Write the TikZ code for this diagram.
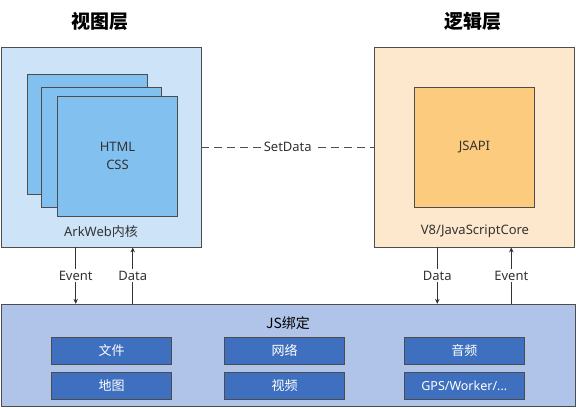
\documentclass[tikz,border=0pt]{standalone}
\usepackage{fontspec}
\setmainfont{Noto Sans}
\newfontfamily\cjk{Noto Sans CJK SC}
\usetikzlibrary{arrows.meta}

\definecolor{viewfill}{HTML}{CDE3F7}
\definecolor{pagefill}{HTML}{82C0F0}
\definecolor{logicfill}{HTML}{FDE8CD}
\definecolor{apifill}{HTML}{FCCB7E}
\definecolor{bindfill}{HTML}{B0C3E9}
\definecolor{modfill}{HTML}{3F70BF}
\definecolor{edge}{HTML}{4D4D4D}

\tikzset{
    layer/.style={draw=edge,line width=0.8pt,minimum width=200pt,minimum height=200pt,inner sep=0pt},
    page/.style={draw=edge,line width=0.8pt,fill=pagefill,minimum width=120pt,minimum height=120pt,inner sep=0pt},
    module/.style={draw=black!70,line width=0.8pt,fill=modfill,text=white,minimum width=120pt,minimum height=27pt,inner sep=0pt,font=\cjk\fontsize{13}{15}\selectfont},
    txt/.style={font=\fontsize{13}{16}\selectfont,text=black!80},
    title/.style={font=\cjk\bfseries\fontsize{19}{22}\selectfont},
    arr/.style={draw=black!80,line width=0.7pt,-{Stealth[length=5pt,width=4.5pt]}},
    lbl/.style={txt,fill=white,inner sep=1.5pt}
}

\begin{document}
\begin{tikzpicture}[x=1pt,y=-1pt]
    \useasboundingbox (0,0) rectangle (576,409);

    % view layer
    \node[title] (viewtitle) at (100,21) {视图层};
    \node[layer,fill=viewfill] (view) at (101,147) {};
    \node[page] (page3) at (87.5,134) {};
    \node[page] (page2) at (101.5,147.5) {};
    \node[page,align=center,txt,font=\fontsize{13}{18}\selectfont] (page1) at (117.5,156) {HTML\\CSS};
    \node[txt] (arkweb) at (101,232) {ArkWeb{\cjk 内核}};

    % logic layer
    \node[title] (logictitle) at (473,21) {逻辑层};
    \node[layer,fill=logicfill] (logic) at (474.5,147) {};
    \node[page,fill=apifill,txt] (jsapi) at (474.5,147) {JSAPI};
    \node[txt] (engine) at (475,231) {V8/JavaScriptCore};

    \draw[edge,line width=0.8pt,dash pattern=on 8pt off 5pt] (view.east) -- (logic.west)
        node[midway,lbl] {SetData};

    % JS binding
    \node[draw=edge,line width=0.8pt,fill=bindfill,minimum width=574pt,minimum height=102.5pt,inner sep=0pt] (bind) at (288,355.5) {};
    \node[font=\cjk\fontsize{14}{16}\selectfont] (bindtitle) at (288,323) {JS绑定};
    \node[module] (file) at (111.7,350.8) {文件};
    \node[module] (net) at (284.5,350.8) {网络};
    \node[module] (audio) at (464.3,350.8) {音频};
    \node[module] (map) at (111.7,385.8) {地图};
    \node[module] (video) at (284.5,385.8) {视频};
    \node[module,font=\fontsize{12.5}{15}\selectfont] (misc) at (464.3,385.8) {GPS/Worker/...};

    % calls between layers and binding
    \draw[arr] ([xshift=-25.3pt]view.south) -- ([xshift=-25.3pt]view.south |- bind.north)
        node[midway,lbl] {Event};
    \draw[arr] ([xshift=31.7pt]view.south |- bind.north) -- ([xshift=31.7pt]view.south)
        node[midway,lbl] {Data};
    \draw[arr] ([xshift=-37.2pt]logic.south) -- ([xshift=-37.2pt]logic.south |- bind.north)
        node[midway,lbl] {Data};
    \draw[arr] ([xshift=36.8pt]logic.south |- bind.north) -- ([xshift=36.8pt]logic.south)
        node[midway,lbl] {Event};
\end{tikzpicture}
\end{document}
